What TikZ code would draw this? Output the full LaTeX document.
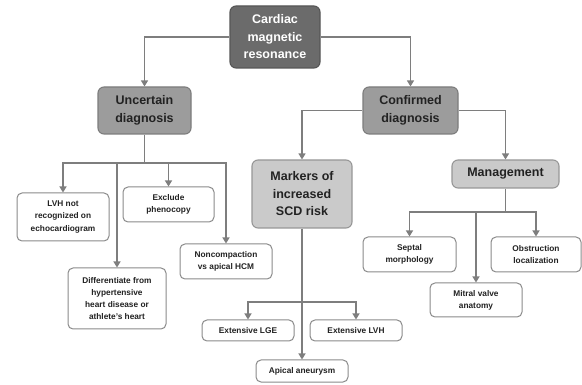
\documentclass[tikz,border=0pt]{standalone}
\usepackage{fontspec}
\setmainfont{Liberation Sans}
\usetikzlibrary{arrows.meta}
\definecolor{linegray}{HTML}{7E7E7E}
\definecolor{darkbox}{HTML}{6B6B6B}
\definecolor{midbox}{HTML}{9C9C9C}
\definecolor{lightbox}{HTML}{CACACA}
\definecolor{leafedge}{HTML}{8A8A8A}
\definecolor{inktext}{HTML}{222222}
\begin{document}
\begin{tikzpicture}[x=1pt,y=-1pt,
  box/.style={rounded corners=6pt, inner sep=0pt, align=center, line width=1.1pt,
    font=\bfseries\fontsize{12.5}{17.5}\selectfont},
  topbox/.style={box, fill=darkbox, draw=darkbox!80!black, text=white},
  midnode/.style={box, fill=midbox, draw=midbox!80!black, text=inktext},
  lightnode/.style={box, fill=lightbox, draw=lightbox!75!black, text=inktext},
  leaf/.style={rounded corners=5pt, inner sep=0pt, align=center, line width=1pt,
    fill=white, draw=leafedge, text=inktext,
    font=\bfseries\fontsize{8.3}{12.2}\selectfont},
  link/.style={draw=linegray, line width=1.2pt},
  arr/.style={link, -{Triangle[width=7pt,length=6pt]}}]
\useasboundingbox (0,0) rectangle (582,385);

% top level
\node[topbox, minimum width=90pt, minimum height=62pt] (cmr) at (275,37)
  {Cardiac\\magnetic\\resonance};
\node[midnode, minimum width=93pt, minimum height=47pt] (unc) at (144.5,110.5)
  {Uncertain\\diagnosis};
\node[midnode, minimum width=95pt, minimum height=47pt] (conf) at (410.5,110.5)
  {Confirmed\\diagnosis};
\node[lightnode, minimum width=100pt, minimum height=68pt] (mark) at (302,194)
  {Markers of\\increased\\SCD risk};
\node[lightnode, minimum width=107pt, minimum height=28pt] (mgmt) at (505.5,174)
  {Management};

% uncertain diagnosis branches
\node[leaf, minimum width=92pt, minimum height=48pt] (lvh) at (63,217)
  {LVH not\\recognized on\\echocardiogram};
\node[leaf, minimum width=91pt, minimum height=35pt] (excl) at (168.5,204.5)
  {Exclude\\phenocopy};
\node[leaf, minimum width=98pt, minimum height=61pt] (diff) at (117,298.5)
  {Differentiate from\\hypertensive\\heart disease or\\athlete's heart};
\node[leaf, minimum width=92pt, minimum height=35pt] (nonc) at (226,261.5)
  {Noncompaction\\vs apical HCM};

% SCD risk markers
\node[leaf, minimum width=92pt, minimum height=21pt] (lge) at (248,330.5)
  {Extensive LGE};
\node[leaf, minimum width=92pt, minimum height=21pt] (elvh) at (356,330.5)
  {Extensive LVH};
\node[leaf, minimum width=92pt, minimum height=22pt] (apic) at (302,371)
  {Apical aneurysm};

% management items
\node[leaf, minimum width=93pt, minimum height=35pt] (sept) at (409.5,254.5)
  {Septal\\morphology};
\node[leaf, minimum width=90pt, minimum height=35pt] (obst) at (536,254.5)
  {Obstruction\\localization};
\node[leaf, minimum width=92pt, minimum height=34pt] (mitr) at (476,300)
  {Mitral valve\\anatomy};

% junction points
\coordinate (ub) at (144.5,163);
\coordinate (mb) at (302,302);
\coordinate (gb) at (505.5,212);

% connectors
\draw[arr] (cmr.west) -| (unc.north);
\draw[arr] (cmr.east) -| (conf.north);

\draw[link] (unc.south) -- (ub);
\draw[arr] (ub) -| (lvh.north);
\draw[arr] (ub) -| (diff.north);
\draw[arr] (ub) -| (excl.north);
\draw[arr] (ub) -| (nonc.north);

\draw[arr] (conf.west) -| (mark.north);
\draw[arr] (conf.east) -| (mgmt.north);

\draw[arr] (mark.south) -- (apic.north);
\draw[arr] (mb) -| (lge.north);
\draw[arr] (mb) -| (elvh.north);

\draw[link] (mgmt.south) -- (gb);
\draw[arr] (gb) -| (sept.north);
\draw[arr] (gb) -| (obst.north);
\draw[arr] (gb) -| (mitr.north);
\end{tikzpicture}
\end{document}
